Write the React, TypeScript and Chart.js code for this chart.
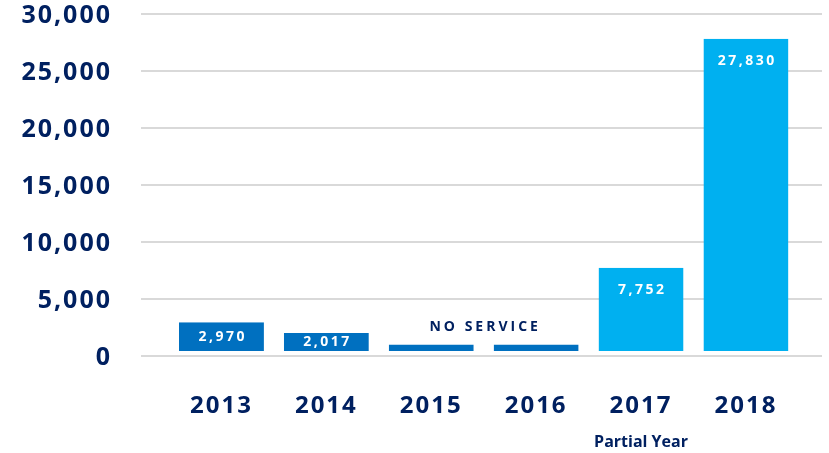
import React, { useEffect, useRef } from "react";
import { Chart, registerables } from "chart.js";

Chart.register(...registerables);

// ---- data ----
const YEARS: string[] = ["2013", "2014", "2015", "2016", "2017", "2018"];
const RIDERSHIP: (number | null)[] = [2970, 2017, null, null, 7752, 27830];
const NO_SERVICE_LEVEL = 1000; // height of the placeholder bars for years with no service
const NO_SERVICE_TEXT = "NO SERVICE";
const PARTIAL_YEAR = "2017";
const PARTIAL_YEAR_TEXT = "Partial Year";
const Y_MIN = 0;
const Y_MAX = 30000;
const Y_STEP = 5000;

// ---- styles ----
const FONT = "'Open Sans', sans-serif";
const NAVY = "#002060";
const DARK_BLUE = "#0070C0";
const LIGHT_BLUE = "#00B0F0";
const GRID = "#D9D9D9";
const BAR_GAP = 4;

const fmt = (v: number) => v.toLocaleString("en-US");

const textPlugin = {
  id: "textPlugin",
  beforeLayout(chart: any) {
    chart.ctx.letterSpacing = "2px";
  },
  beforeDraw(chart: any) {
    chart.ctx.letterSpacing = "2px";
  },
  afterDatasetsDraw(chart: any) {
    const ctx = chart.ctx;
    const meta = chart.getDatasetMeta(0);
    const xs = chart.scales.x;
    const ys = chart.scales.y;
    ctx.save();
    ctx.textAlign = "center";
    ctx.textBaseline = "middle";
    // value labels
    ctx.font = `bold 14px ${FONT}`;
    ctx.letterSpacing = "2.5px";
    ctx.fillStyle = "#FFFFFF";
    meta.data.forEach((bar: any, i: number) => {
      const v = RIDERSHIP[i];
      if (v == null) return;
      const p = bar.getProps(["x", "y", "base"], true);
      const bottom = p.base - BAR_GAP;
      const cy = p.y + Math.min((bottom - p.y) / 2, 22);
      ctx.fillText(fmt(v), p.x + 1.25, cy);
    });
    // NO SERVICE
    const idx = RIDERSHIP.map((v, i) => (v == null ? i : -1)).filter((i) => i >= 0);
    if (idx.length) {
      const nx = (xs.getPixelForValue(idx[0]) + xs.getPixelForValue(idx[idx.length - 1])) / 2;
      const ny = ys.getPixelForValue(NO_SERVICE_LEVEL) - 18;
      ctx.font = `bold 14px ${FONT}`;
      ctx.letterSpacing = "3px";
      ctx.fillStyle = NAVY;
      ctx.fillText(NO_SERVICE_TEXT, nx + 1.5, ny);
    }
    // Partial Year
    const pi = YEARS.indexOf(PARTIAL_YEAR);
    ctx.font = `bold 16px ${FONT}`;
    ctx.letterSpacing = "0px";
    ctx.fillStyle = NAVY;
    ctx.fillText(PARTIAL_YEAR_TEXT, xs.getPixelForValue(pi), ys.bottom + 86);
    ctx.restore();
  },
};

export default function App() {
  const ref = useRef<HTMLCanvasElement | null>(null);
  useEffect(() => {
    if (!ref.current) return;
    const chart = new Chart(ref.current, {
      type: "bar",
      data: {
        datasets: [
          {
            data: RIDERSHIP.map((v, i) => ({ x: i, y: v == null ? NO_SERVICE_LEVEL : v })),
            backgroundColor: YEARS.map((y) => (Number(y) >= Number(PARTIAL_YEAR) ? LIGHT_BLUE : DARK_BLUE)),
            borderColor: "rgba(0,0,0,0)",
            borderWidth: { top: 0, left: 0, right: 0, bottom: BAR_GAP },
            borderSkipped: false,
            barPercentage: 0.9,
            categoryPercentage: 0.9,
          } as any,
        ],
      },
      options: {
        animation: false,
        responsive: true,
        maintainAspectRatio: false,
        layout: { padding: { top: 0, right: 7, left: 0, bottom: 0 } },
        plugins: { legend: { display: false }, tooltip: { enabled: false } },
        scales: {
          x: {
            type: "linear",
            min: -0.767,
            max: 5.725,
            offset: false,
            grid: { display: false, drawTicks: false, offset: false },
            border: { display: false },
            ticks: {
              stepSize: 1,
              includeBounds: false,
              autoSkip: false,
              maxRotation: 0,
              padding: 36,
              color: NAVY,
              font: { family: FONT, size: 24, weight: "bold" },
              callback: (v: any) => (Number.isInteger(v) && YEARS[v] ? YEARS[v] : ""),
            },
            afterFit: (s: any) => {
              s.height = 97;
            },
          } as any,
          y: {
            min: Y_MIN,
            max: Y_MAX,
            grid: { color: GRID, lineWidth: 2, drawTicks: false },
            border: { display: false },
            ticks: {
              stepSize: Y_STEP,
              padding: 29,
              labelOffset: 2,
              color: NAVY,
              font: { family: FONT, size: 25, weight: "bold" },
              callback: (v: any) => fmt(Number(v)),
            },
            afterFit: (s: any) => {
              s.width = 141;
              s.paddingTop = 14;
              s.paddingBottom = 0;
            },
          } as any,
        },
      },
      plugins: [textPlugin],
    });
    return () => chart.destroy();
  }, []);
  return (
    <div style={{ position: "fixed", left: 0, top: 0, width: 829, height: 453 }}>
      <canvas ref={ref} />
    </div>
  );
}
